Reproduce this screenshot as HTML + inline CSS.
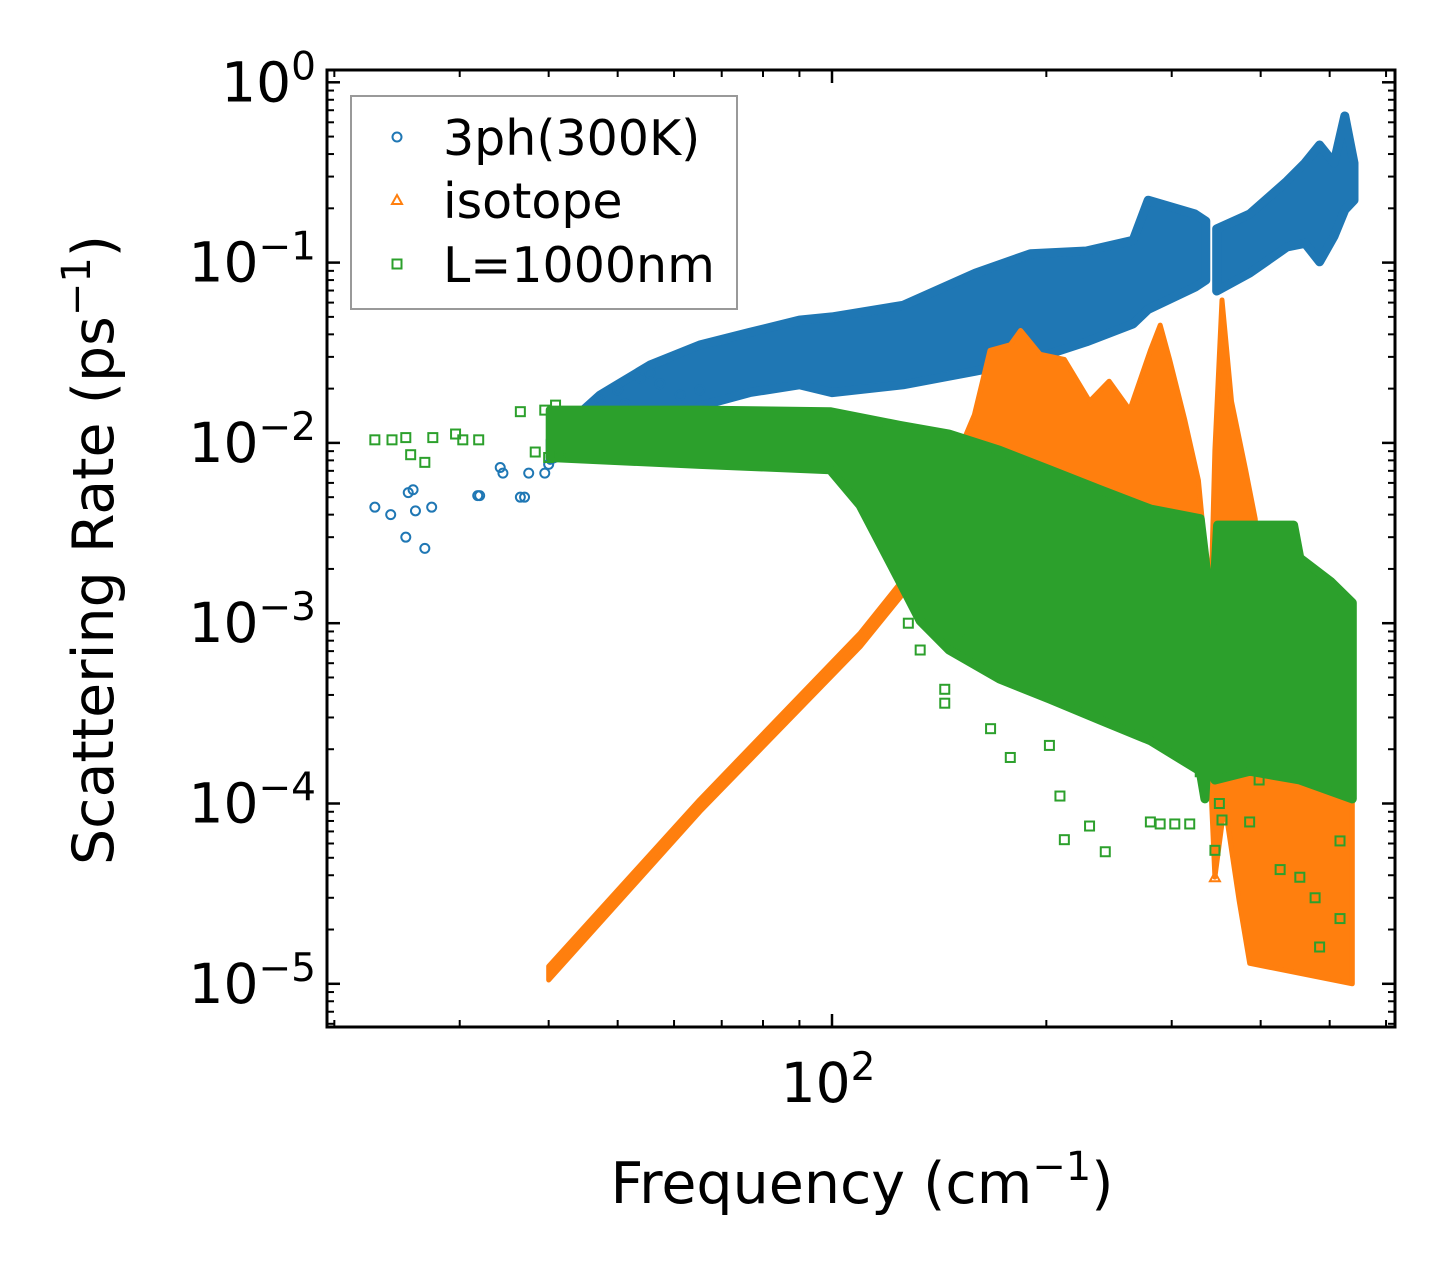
<!DOCTYPE html>
<html><head><meta charset="utf-8">
<style>
html,body{margin:0;padding:0;background:#fff;}
svg{display:block;font-family:"DejaVu Sans","Liberation Sans",sans-serif;}
</style></head>
<body>
<svg id="chart" width="1455" height="1277" viewBox="0 0 1455 1277" xmlns="http://www.w3.org/2000/svg">
<g id="bands"></g>
<g id="axes"></g>
<text x="0" y="0" transform="translate(113,550) rotate(-90)" text-anchor="middle" font-size="57">Scattering Rate (ps<tspan baseline-shift="super" font-size="40">−1</tspan>)</text>
<text x="862" y="1203" text-anchor="middle" font-size="57">Frequency (cm<tspan baseline-shift="super" font-size="40">−1</tspan>)</text>
<g>
<rect x="351" y="96" width="386" height="213" fill="#fff" stroke="#999" stroke-width="2"/>
<g>
<circle cx="397" cy="137" r="4.5" fill="none" stroke="#1f77b4" stroke-width="2"/>
<text x="443" y="155" font-size="49">3ph(300K)</text></g>
<g>
<polygon points="397,195 402,204 392,204" fill="none" stroke="#ff7f0e" stroke-width="2"/>
<text x="443" y="218" font-size="49">isotope</text></g>
<g>
<rect x="392.5" y="259.5" width="9" height="9" fill="none" stroke="#2ca02c" stroke-width="2"/>
<text x="443" y="282" font-size="49">L=1000nm</text></g>
</g>
</svg>
<script>
// ---- data (frequency in cm^-1, rate in ps^-1) ----
const blueBandFreqA=[40.2,47.2,55.5,65.2,76.6,90,100,125.8,159,190,227.6,264.8,278,323.5,335];
const blueBandUpA=[0.0104,0.0184,0.027,0.0349,0.041,0.048,0.050,0.058,0.0875,0.112,0.116,0.133,0.222,0.186,0.170];
const blueBandLoA=[0.008,0.0104,0.0118,0.016,0.019,0.021,0.019,0.021,0.025,0.0288,0.0363,0.0457,0.055,0.073,0.080];
const blueBandFreqB=[347,386,435.6,461.6,484,507,525,541];
const blueBandUpB=[0.154,0.186,0.283,0.357,0.449,0.357,0.65,0.357];
const blueBandLoB=[0.0696,0.0875,0.122,0.128,0.101,0.14,0.196,0.222];
const blueFreq=[22.8,24.0,25.2,25.4,25.8,26.0,26.8,27.4,31.8,32.0,34.2,34.5,36.5,37.0,37.5,39.5,40.0,41.5,43.0,45.0,45.8,47.2,50.0,51.2,53.8,55.5,57.3,50.4,52.1,61.2,65.2];
const blueRate=[0.0044,0.0040,0.0030,0.0053,0.0055,0.0042,0.0026,0.0044,0.0051,0.0051,0.0073,0.0068,0.0050,0.0050,0.0068,0.0068,0.0076,0.0086,0.0108,0.0121,0.0152,0.0173,0.0197,0.0164,0.0229,0.0244,0.0213,0.0118,0.0133,0.0184,0.0197];
const orangeTopFreq=[40,65.2,109.5,126.6,130.7,139.5,151,158.5,166.7,178,184,196,212,230,245,262,280,289,298,313,327,335,340,345,353,364,381,393,402,426,538];
const orangeTopRate=[1.25e-5,1.05e-4,8.8e-4,0.0018,0.0062,0.0104,0.0091,0.0143,0.0326,0.035,0.042,0.031,0.029,0.017,0.022,0.0152,0.0326,0.045,0.029,0.0134,0.0062,0.0023,0.00103,0.0091,0.062,0.017,0.0071,0.0038,0.00103,0.00038,0.00038];
const orangeBotFreq=[538,386,373,356,345,334,280,200,126.6,109.5,65.2,40];
const orangeBotRate=[1e-5,1.3e-5,2.9e-5,1.0e-4,3.9e-5,7.1e-4,0.001,0.001,0.0015,7.4e-4,9.0e-5,1.05e-5];
const orangeFreq=[345];
const orangeRate=[3.9e-5];
const greenTopFreq=[40.2,65.2,99.4,124.6,146,172,202,238,280,329,334,342,348,445,454,502,538];
const greenTopRate=[0.0152,0.0152,0.0149,0.0125,0.0112,0.0091,0.0071,0.0055,0.0043,0.0038,0.0023,0.001,0.0035,0.0035,0.0023,0.0017,0.0013];
const greenBotFreq=[538,454,386,345,340,334,329,280,238,202,172,146,133,124.6,109.5,99.4,65.2,40.2];
const greenBotRate=[0.000106,0.000135,0.000151,0.000135,0.00038,0.000106,0.000151,0.000223,0.00029,0.00038,0.00049,0.00071,0.00103,0.0017,0.0045,0.0071,0.0076,0.0083];
const greenFreq=[22.8,24.1,25.2,25.6,26.8,27.5,29.6,30.3,31.9,36.5,39.5,40.9,38.3,40.0,41.5,144,144,151,167,178,202,209,212,230,242,280,289,303,318,329,345,350,353,386,398,426,454,477,484,517,517,128,133];
const greenRate=[0.0104,0.0104,0.0107,0.0086,0.0078,0.0107,0.0112,0.0104,0.0104,0.0149,0.0152,0.0162,0.0089,0.0083,0.0089,0.00043,0.00036,0.00081,0.00026,0.00018,0.00021,0.00011,6.3e-5,7.5e-5,5.4e-5,7.9e-5,7.7e-5,7.7e-5,7.7e-5,0.00015,5.5e-5,0.0001,8.1e-5,7.9e-5,0.000135,4.3e-5,3.9e-5,3.0e-5,1.6e-5,6.2e-5,2.3e-5,0.001,0.00071];
const yTickExp=[0,-1,-2,-3,-4,-5];
const xMajor=[100];

// ---- axes functions ----
const L=327,R=1395,T=70,B=1027;
function xs(f){return 832+712*(Math.log10(f)-2);}
function ys(v){return 82.3-180.3*Math.log10(v);}
const NS='http://www.w3.org/2000/svg';
function mk(tag,attrs,parent){const e=document.createElementNS(NS,tag);for(const k in attrs)e.setAttribute(k,attrs[k]);parent.appendChild(e);return e;}
const bands=document.getElementById('bands');
const axes=document.getElementById('axes');
const clip=mk('clipPath',{id:'plotclip'},mk('defs',{},document.getElementById('chart')));
mk('rect',{x:L,y:T,width:R-L,height:B-T},clip);
bands.setAttribute('clip-path','url(#plotclip)');

function band(fu,ru,fl,rl,color,name,rev,sw){
  const pts=[];
  for(let i=0;i<fu.length;i++)pts.push(xs(fu[i]).toFixed(1)+','+ys(ru[i]).toFixed(1));
  for(let i=0;i<fl.length;i++){const j=rev?fl.length-1-i:i;pts.push(xs(fl[j]).toFixed(1)+','+ys(rl[j]).toFixed(1));}
  const p=mk('polygon',{points:pts.join(' '),fill:color,stroke:color,'stroke-width':sw,'stroke-linejoin':'round'},bands);
  
  
}
function circles(fr,rt,color,name){
  for(let i=0;i<fr.length;i++){
    const c=mk('circle',{cx:xs(fr[i]),cy:ys(rt[i]),r:4.5,fill:'none',stroke:color,'stroke-width':2},bands);
    
    
  }
}
function squares(fr,rt,color,name){
  for(let i=0;i<fr.length;i++){
    const c=mk('rect',{x:xs(fr[i])-4.5,y:ys(rt[i])-4.5,width:9,height:9,fill:'none',stroke:color,'stroke-width':2},bands);
    
    
  }
}
function tris(fr,rt,color,name){
  for(let i=0;i<fr.length;i++){
    const x=xs(fr[i]),y=ys(rt[i]);
    const c=mk('polygon',{points:`${x},${y-5} ${x+5},${y+4} ${x-5},${y+4}`,fill:'none',stroke:color,'stroke-width':2},bands);
    
    
  }
}
// blue
band(blueBandFreqA,blueBandUpA,blueBandFreqA,blueBandLoA,'#1f77b4','3ph-band-low',true,9);
band(blueBandFreqB,blueBandUpB,blueBandFreqB,blueBandLoB,'#1f77b4','3ph-band-high',true,9);
circles(blueFreq,blueRate,'#1f77b4','3ph-point');
// orange
band(orangeTopFreq,orangeTopRate,orangeBotFreq,orangeBotRate,'#ff7f0e','isotope-band',false,5);
tris(orangeFreq,orangeRate,'#ff7f0e','isotope-point');
// green
band(greenTopFreq,greenTopRate,greenBotFreq,greenBotRate,'#2ca02c','boundary-band',false,9);
squares(greenFreq,greenRate,'#2ca02c','boundary-point');

// frame
const fr=mk('rect',{x:L,y:T,width:R-L,height:B-T,fill:'none',stroke:'#000','stroke-width':3},axes);


// y ticks
for(const e of yTickExp){
  const y=ys(Math.pow(10,e));
  mk('line',{x1:L,x2:L+13,y1:y,y2:y,stroke:'#000','stroke-width':2.5},axes);
  mk('line',{x1:R,x2:R-13,y1:y,y2:y,stroke:'#000','stroke-width':2.5},axes);
  const t=mk('text',{x:316,y:y+19,'text-anchor':'end','font-size':55},axes);
  
  
  t.innerHTML='10<tspan baseline-shift="super" font-size="39">'+(e<0?'−'+(-e):e)+'</tspan>';
}
for(let e=-6;e<=0;e++){
  for(let m=2;m<=9;m++){
    const y=ys(m*Math.pow(10,e));
    if(y<T+1||y>B-1)continue;
    mk('line',{x1:L,x2:L+7,y1:y,y2:y,stroke:'#000','stroke-width':2},axes);
    mk('line',{x1:R,x2:R-7,y1:y,y2:y,stroke:'#000','stroke-width':2},axes);
  }
}
// x ticks
for(const v of xMajor){
  const x=xs(v);
  mk('line',{x1:x,x2:x,y1:B,y2:B-13,stroke:'#000','stroke-width':2.5},axes);
  mk('line',{x1:x,x2:x,y1:T,y2:T+13,stroke:'#000','stroke-width':2.5},axes);
  const t=mk('text',{x:x-4,y:1102,'text-anchor':'middle','font-size':55},axes);
  
  
  t.innerHTML='10<tspan baseline-shift="super" font-size="39">2</tspan>';
}
for(let d=1;d<=2;d++){
  for(let m=2;m<=9;m++){
    const x=xs(m*Math.pow(10,d));
    if(x<L+1||x>R-1)continue;
    mk('line',{x1:x,x2:x,y1:B,y2:B-7,stroke:'#000','stroke-width':2},axes);
    mk('line',{x1:x,x2:x,y1:T,y2:T+7,stroke:'#000','stroke-width':2},axes);
  }
}
</script>
</body></html>
